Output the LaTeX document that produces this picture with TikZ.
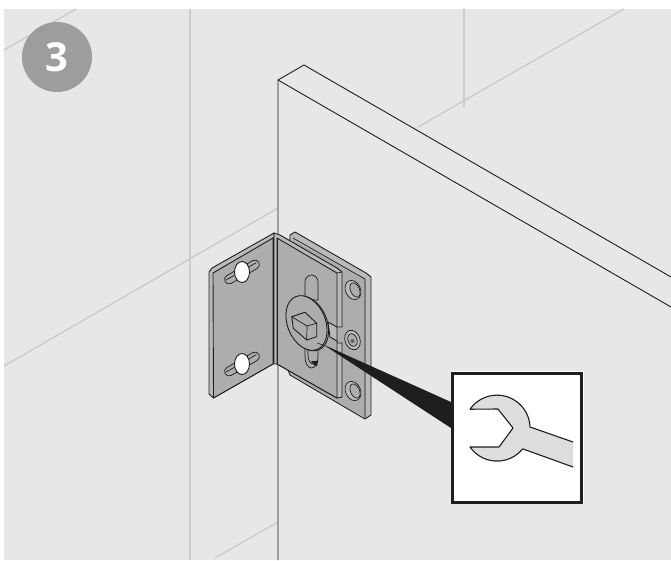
\documentclass[tikz,border=0pt]{standalone}
\usepackage{fontspec}
\setmainfont{Open Sans}
\definecolor{wallc}{HTML}{E6E7E6}
\definecolor{tilec}{HTML}{CBCDCC}
\definecolor{platec}{HTML}{ABAEAD}
\definecolor{edgec}{HTML}{B9BBBA}
\definecolor{linec}{HTML}{1E1E1E}
\definecolor{badgec}{HTML}{9B9E9D}
\definecolor{wrenchc}{HTML}{DCDDDD}
\tikzset{
  tile/.style={draw=tilec,line width=1.4pt},
  panelline/.style={draw=linec,line width=.9pt},
  plate/.style={draw=linec,line width=.9pt,fill=platec,line join=round},
  plateedge/.style={draw=linec,line width=.9pt,fill=edgec,line join=round},
  thinline/.style={draw=linec,line width=.7pt},
  badge/.style={circle,fill=badgec,minimum size=70pt,inner sep=0pt,text=white,font=\fontsize{40}{40}\selectfont\bfseries}
}
\begin{document}
\begin{tikzpicture}[x=1pt,y=-1pt]
\useasboundingbox (0,0) rectangle (671,560);
\fill[white] (0,0) rectangle (671,560);
\fill[wallc] (4,9) rectangle (671,560);
% tile joints
\draw[tile] (4,50) -- (76,9);
\draw[tile] (190,9) -- (190,560);
\draw[tile] (464,9) -- (464,107);
\draw[tile] (418,127) -- (624,9);
\draw[tile] (4,366) -- (278,208);
\draw[tile] (215,558) -- (278,522);
% panel
\draw[panelline] (278,560) -- (278,80) -- (304,65) -- (671,277);
\draw[panelline] (278,80) -- (671,307);
% back plate
\draw[plateedge] (290,235) -- (295,232) -- (366,273) -- (371,277) -- (371,415) -- (365,419) -- (290,375) -- (288,370) -- cycle;
\fill[platec] (293,240) -- (366,279) -- (366,418) -- (293,376) -- cycle;
\draw[thinline] (293,238) -- (365,279) -- (365,418);
% left wing
\draw[plateedge] (274,233) -- (212,268) -- (209,272) -- (209,394) -- (213.5,398) -- (273,364) -- cycle;
\draw[plate] (273,238) -- (213,273) -- (213.5,398) -- (273,364) -- cycle;
% left wing slots
\foreach \cy in {272,364}{
  \begin{scope}[shift={(242,\cy)},rotate=30]
    \draw[thinline,fill=platec] (-15,-4.5) -- (15,-4.5) arc[start angle=-90,end angle=90,radius=4.5] -- (-15,4.5) arc[start angle=90,end angle=270,radius=4.5] -- cycle;
    \draw[thinline] (-18,-1) -- (17,-1);
  \end{scope}
  \draw[line width=.9pt,draw=linec,fill=white] (242,\cy) ellipse [x radius=7.5,y radius=10.5];
}
% right wing flange
\draw[plateedge] (274,233) -- (280,235) -- (337,268) -- (342,272) -- (342,327) -- (337,327) -- (337,343) -- (342,343) -- (342,397) -- (337,398) -- (277,364) -- (274,364) -- cycle;
\draw[plate] (277,238) -- (337,273) -- (337,327) -- (328,322) -- (330,337) -- (337,341) -- (337,398) -- (277,364) -- cycle;
\draw[thinline] (337,273) -- (342,272);
\draw[line width=1pt,draw=linec] (273.5,237) -- (273.5,364);
\draw[line width=1pt,draw=linec] (277,238) -- (277,364);
% vertical slot
\draw[thinline,fill=platec] (305,300) -- (305,282) arc[start angle=180,end angle=360,x radius=6.5,y radius=7] -- (318,300) -- cycle;
\draw[thinline,fill=platec] (305,340) -- (305,357) arc[start angle=180,end angle=0,x radius=6.5,y radius=11] -- (318,340) -- cycle;
\fill[linec] (311,361) -- (318,361) -- (317,366) -- (314,365) -- cycle;
\draw[thinline] (308,344) -- (308,355) arc[start angle=180,end angle=40,x radius=5,y radius=9];
% washer
\draw[plate] (308,323.5) ellipse [x radius=19,y radius=28.5,rotate=22];
\draw[plate] (306.5,323) ellipse [x radius=19,y radius=28.5,rotate=22];
% hex bolt
\draw[plate] (291.7,316.7) -- (305,312.3) -- (316.7,323.3) -- (316.7,336.7) -- (306.7,340) -- (293.3,328.3) -- cycle;
\draw[thinline] (291.7,316.7) -- (307,326) -- (316.7,323.3);
\draw[thinline] (307,326) -- (306.7,340);
% holes in back plate
\foreach \cy in {290,391}{
  \draw[thinline,fill=edgec] (353,\cy) ellipse [x radius=7.5,y radius=10,rotate=25];
  \draw[thinline,fill=platec] (355,\cy) ellipse [x radius=4.5,y radius=7.5,rotate=25];
}
\draw[thinline,fill=edgec] (352.5,340) ellipse [x radius=7.5,y radius=10,rotate=20];
\draw[thinline,fill=platec] (352.5,340) ellipse [x radius=4.5,y radius=6.5,rotate=20];
\fill[linec!70] (352.5,341) circle (2);
% pointer wedge
\draw[line width=.5pt,draw=linec] (317,343) -- (323,345);
\fill[linec] (323,344.5) -- (451,402) -- (451,428) -- cycle;
% wrench box
\node[draw=white,line width=1pt,minimum size=132pt,inner sep=0pt] (boxhalo) at (517,437.5) {};
\node[draw=linec,fill=white,line width=3pt,minimum size=129pt,inner sep=0pt] (wbox) at (517,437.5) {};
\fill[wrenchc] (470,409) arc[start angle=215,end angle=358,radius=33] -- (573,442) -- (573,467) -- (523,449) arc[start angle=39,end angle=145,radius=33] -- (499,447) -- (513,428) -- (498,409) -- cycle;
\draw[line width=1.1pt,draw=linec,line join=round] (573,442) -- (530,427) arc[start angle=358,end angle=215,radius=33] -- (498,409) -- (513,428) -- (499,447) -- (470,447) arc[start angle=145,end angle=39,radius=33] -- (573,467);
% badge
\node[badge] (stepbadge) at (57,57) {3};
\end{tikzpicture}
\end{document}
